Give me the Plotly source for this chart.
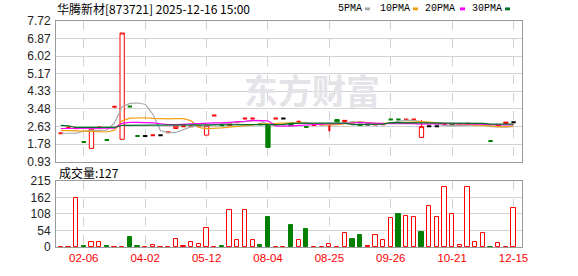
import plotly.graph_objects as go

# ---------------- data ----------------
tick_idx = [3, 11, 19, 27, 35, 43, 51, 59]
tick_text = ["02-06", "04-02", "05-12", "08-04", "08-25", "09-26", "10-21", "12-15"]
price_ticks = [0.93, 1.78, 2.63, 3.48, 4.33, 5.17, 6.02, 6.87, 7.72]
vol_ticks = [0, 54, 108, 162, 215]

opens = [2.30, 2.57, 2.52, 1.88, 1.57, 2.58, 1.98, 3.58, 2.01, 3.59,
         2.17, 2.17, 2.20, 2.20, 2.35, 2.53, 2.64, 2.64, 2.64, 2.21,
         3.16, 2.69, 2.68, 2.83, 3.01, 3.01, 2.74, 2.72, 3.01, 3.01,
         2.76, 2.86, 2.60, 2.70, 2.72, 2.72, 2.96, 2.87, 2.84, 2.74,
         2.72, 2.70, 2.74, 2.96, 2.96, 2.96, 2.96, 2.10, 2.64, 2.64,
         2.74, 2.77, 2.69, 2.76, 2.74, 2.72, 1.93, 2.63, 2.77, 2.83]
closes = [2.30, 2.57, 2.58, 1.88, 2.50, 2.58, 1.98, 3.58, 7.14, 3.59,
          2.17, 2.17, 2.20, 2.20, 2.35, 2.64, 2.64, 2.64, 2.64, 2.67,
          3.16, 2.69, 2.76, 2.83, 3.01, 3.01, 2.74, 1.62, 3.01, 3.01,
          2.66, 2.86, 2.60, 2.70, 2.72, 2.72, 2.85, 2.92, 2.80, 2.68,
          2.72, 2.74, 2.74, 2.96, 2.96, 2.96, 2.96, 2.62, 2.64, 2.64,
          2.74, 2.69, 2.77, 2.76, 2.74, 2.72, 1.93, 2.69, 2.84, 2.83]
highs = [2.30, 2.57, 2.58, 1.88, 2.50, 2.58, 1.98, 3.58, 7.14, 3.59,
         2.17, 2.17, 2.20, 2.20, 2.35, 2.64, 2.64, 2.64, 2.64, 2.67,
         3.16, 2.69, 2.76, 2.83, 3.01, 3.01, 2.74, 2.72, 3.01, 3.01,
         2.76, 2.86, 2.60, 2.70, 2.72, 2.72, 2.96, 2.92, 2.84, 2.74,
         2.72, 2.74, 2.74, 2.96, 2.96, 2.96, 2.96, 2.94, 2.64, 2.64,
         2.74, 2.77, 2.77, 2.76, 2.74, 2.72, 1.93, 2.69, 2.84, 2.83]
lows = [2.30, 2.57, 2.52, 1.88, 1.57, 2.58, 1.98, 3.58, 2.01, 3.59,
        2.17, 2.17, 2.20, 2.20, 2.35, 2.53, 2.64, 2.64, 2.64, 2.21,
        3.16, 2.69, 2.68, 2.83, 3.01, 3.01, 2.74, 1.62, 3.01, 3.01,
        2.66, 2.86, 2.60, 2.70, 2.72, 2.40, 2.85, 2.87, 2.80, 2.68,
        2.72, 2.70, 2.74, 2.96, 2.96, 2.96, 2.96, 2.10, 2.64, 2.64,
        2.74, 2.69, 2.69, 2.76, 2.74, 2.72, 1.93, 2.63, 2.77, 2.83]
# rh = red hollow body, g = green body, rd/gd/kd = red/green/black doji
candle_kind = ["rd", "rd", "rh", "gd", "rh", "rd", "gd", "rd", "rh", "gd",
               "gd", "kd", "rd", "kd", "rd", "rh", "rd", "rd", "rd", "rh",
               "rd", "gd", "rh", "rd", "rd", "rd", "gd", "g", "rd", "kd",
               "g", "rd", "gd", "rd", "rd", "rd", "g", "rh", "g", "g",
               "kd", "rh", "rd", "gd", "gd", "rd", "rd", "rh", "kd", "kd",
               "rd", "g", "rh", "rd", "rd", "rd", "gd", "rh", "rh", "kd"]

volumes = [1, 1, 159, 2, 16, 16, 2, 1, 1, 32,
           2, 1, 6, 1, 1, 26, 4, 16, 10, 62,
           1, 3, 120, 22, 120, 22, 6, 97, 1, 1,
           73, 22, 57, 1, 1, 9, 1, 47, 26, 38,
           4, 40, 24, 93, 107, 101, 97, 48, 132, 97,
           196, 109, 6, 196, 16, 47, 1, 12, 1, 127]
vol_kind = ["rh", "rh", "rh", "g", "rh", "rh", "g", "rh", "rh", "g",
            "g", "rh", "rh", "rh", "rh", "rh", "rf", "rh", "rh", "rh",
            "rh", "g", "rh", "rh", "rh", "rh", "g", "g", "rh", "rh",
            "g", "rh", "g", "rh", "rh", "rh", "rh", "rh", "g", "g",
            "rf", "rh", "rh", "rh", "g", "rh", "rh", "g", "rh", "rh",
            "rh", "rh", "rh", "rh", "rh", "rh", "g", "rh", "rh", "rh"]

ma5 = [2.30, 2.30, 2.30, 2.40, 2.44, 2.44, 2.45, 2.80, 3.58, 3.74,
       3.76, 3.70, 3.22, 2.42, 2.33, 2.34, 2.48, 2.62, 2.64, 2.66,
       2.72, 2.76, 2.80, 2.84, 2.88, 2.90, 2.90, 2.72, 2.68, 2.75,
       2.78, 2.80, 2.82, 2.76, 2.70, 2.72, 2.74, 2.80, 2.84, 2.86,
       2.80, 2.72, 2.74, 2.80, 2.86, 2.93, 2.92, 2.86, 2.80, 2.74,
       2.68, 2.66, 2.68, 2.70, 2.72, 2.72, 2.62, 2.60, 2.60, 2.62]
ma10 = [2.44, 2.44, 2.42, 2.40, 2.38, 2.36, 2.36, 2.45, 2.90, 3.03,
        3.05, 3.05, 3.02, 2.99, 2.99, 3.01, 3.01, 2.90, 2.58, 2.52,
        2.53, 2.56, 2.60, 2.64, 2.68, 2.70, 2.74, 2.76, 2.78, 2.80,
        2.80, 2.79, 2.78, 2.76, 2.72, 2.70, 2.72, 2.76, 2.82, 2.84,
        2.82, 2.78, 2.78, 2.80, 2.82, 2.84, 2.86, 2.86, 2.84, 2.80,
        2.78, 2.76, 2.74, 2.74, 2.72, 2.70, 2.66, 2.62, 2.62, 2.64]
ma20 = [2.53, 2.53, 2.53, 2.53, 2.53, 2.53, 2.53, 2.55, 2.78, 2.83,
        2.83, 2.83, 2.80, 2.76, 2.72, 2.72, 2.74, 2.74, 2.76, 2.80,
        2.80, 2.80, 2.82, 2.86, 2.88, 2.92, 2.92, 2.90, 2.66, 2.64,
        2.66, 2.68, 2.70, 2.74, 2.76, 2.76, 2.76, 2.78, 2.80, 2.82,
        2.80, 2.78, 2.77, 2.76, 2.76, 2.77, 2.77, 2.74, 2.76, 2.78,
        2.77, 2.76, 2.76, 2.76, 2.74, 2.74, 2.72, 2.70, 2.70, 2.71]
ma30 = [2.68, 2.66, 2.58, 2.58, 2.58, 2.58, 2.58, 2.58, 2.68, 2.69,
        2.69, 2.69, 2.69, 2.69, 2.69, 2.69, 2.70, 2.70, 2.70, 2.70,
        2.70, 2.70, 2.70, 2.70, 2.70, 2.71, 2.71, 2.70, 2.72, 2.72,
        2.78, 2.79, 2.79, 2.79, 2.79, 2.79, 2.79, 2.79, 2.72, 2.72,
        2.72, 2.72, 2.74, 2.81, 2.81, 2.81, 2.81, 2.81, 2.81, 2.81,
        2.78, 2.78, 2.78, 2.78, 2.78, 2.78, 2.74, 2.74, 2.74, 2.74]

title_text = "华腾新材[873721] 2025-12-16 15:00"
vol_label = "成交量:127"
legend_items = [("5PMA", "#a8a8a8"), ("10PMA", "#f0a010"), ("20PMA", "#ff00ff"), ("30PMA", "#006f2a")]

# ---------------- styling ----------------
RED = "#ff0000"
GREEN = "#007f00"
W, H = 578, 276
L, R, T, B = 56, 522, 21, 254
pw, ph = R - L, B - T


def px(x):
    return (x - L) / pw


def py(y):
    return (B - y) / ph


x = list(range(len(opens)))
fig = go.Figure()

# moving averages
for vals, col in zip([ma5, ma10, ma20, ma30], [c for _, c in legend_items]):
    fig.add_trace(go.Scatter(x=x, y=vals, mode="lines", line=dict(color=col, width=1.2),
                             xaxis="x", yaxis="y", hoverinfo="skip"))

styles = {
    "rh": (RED, "white", 1),
    "g": (GREEN, GREEN, 1),
    "rd": (RED, RED, 2),
    "gd": (GREEN, GREEN, 2),
    "kd": ("#000000", "#000000", 2),
}
for kind, (lc, fc, lw) in styles.items():
    idx = [i for i, k in enumerate(candle_kind) if k == kind]
    fig.add_trace(go.Candlestick(
        x=[x[i] for i in idx], open=[opens[i] for i in idx], high=[highs[i] for i in idx],
        low=[lows[i] for i in idx], close=[closes[i] for i in idx],
        increasing=dict(line=dict(color=lc, width=lw), fillcolor=fc),
        decreasing=dict(line=dict(color=lc, width=lw), fillcolor=fc),
        whiskerwidth=0, xaxis="x", yaxis="y", hoverinfo="skip"))

vfill = {"rh": "white", "rf": RED, "g": GREEN}
vline = {"rh": RED, "rf": RED, "g": GREEN}
fig.add_trace(go.Bar(x=x, y=volumes, width=0.55, xaxis="x2", yaxis="y2",
                     marker=dict(color=[vfill[k] for k in vol_kind],
                                 line=dict(color=[vline[k] for k in vol_kind], width=1)),
                     hoverinfo="skip"))

xr = [-0.62, 60.1]
grid = "#d2d2d2"
border = "#9a9a9a"
axfont = dict(family="Liberation Sans, Arial, sans-serif", size=12, color="#222")
fig.update_layout(
    width=W, height=H, margin=dict(l=L, r=W - R, t=T, b=H - B),
    paper_bgcolor="white", plot_bgcolor="white", showlegend=False,
    hovermode=False, boxgap=0.2, boxgroupgap=0.3, bargap=0,
    xaxis=dict(domain=[0, 1], range=xr, anchor="y", tickvals=tick_idx, showticklabels=False,
               showgrid=True, gridcolor=grid, griddash="dash", zeroline=False,
               showline=True, linecolor=border, mirror=True, rangeslider=dict(visible=False),
               fixedrange=True),
    yaxis=dict(domain=[py(166), 1], range=[price_ticks[0], price_ticks[-1]], tickvals=price_ticks,
               ticktext=[f"{v:.2f}" for v in price_ticks], tickfont=axfont,
               showgrid=True, gridcolor=grid, zeroline=False, showline=True,
               linecolor=border, mirror=True, ticks="", ticklabelstandoff=2),
    xaxis2=dict(domain=[0, 1], range=xr, anchor="y2", tickvals=tick_idx, ticktext=tick_text,
                tickfont=dict(family="Liberation Sans, Arial, sans-serif", size=11.5, color=RED),
                showgrid=True, gridcolor=grid, griddash="dash", zeroline=False,
                showline=True, linecolor=border, mirror=True, ticks=""),
    yaxis2=dict(domain=[0, py(186)], range=[0, 215], tickvals=vol_ticks, tickfont=axfont,
                showgrid=True, gridcolor=grid, zeroline=False, showline=True,
                linecolor=border, mirror=True, ticks="", ticklabelstandoff=2),
)

ann = []
ann.append(dict(text="<b>东方财富</b>", x=px(312), y=py(92), xref="paper", yref="paper",
                showarrow=False, font=dict(family="Noto Sans CJK SC", size=34, color="#e4e4e8"),
                xanchor="center", yanchor="middle"))
ann.append(dict(text=title_text, x=px(55), y=py(8), xref="paper", yref="paper", showarrow=False,
                font=dict(family="Noto Sans CJK SC", size=12, color="#000"),
                xanchor="left", yanchor="middle"))
ann.append(dict(text=vol_label, x=px(57), y=py(177), xref="paper", yref="paper", showarrow=False,
                font=dict(family="Noto Sans CJK SC", size=12, color="#000"),
                xanchor="left", yanchor="middle"))
shapes = []
lx = [336, 378, 423, 470]
sx = [365, 413, 460, 505]
for (name, col), tx, s in zip(legend_items, lx, sx):
    ann.append(dict(text=name, x=px(tx), y=py(8), xref="paper", yref="paper", showarrow=False,
                    font=dict(family="Liberation Mono, monospace", size=10, color="#000"),
                    xanchor="left", yanchor="middle"))
    shapes.append(dict(type="rect", xref="paper", yref="paper", x0=px(s), x1=px(s + 5),
                       y0=py(10), y1=py(7), fillcolor=col, line=dict(width=0)))
fig.update_layout(annotations=ann, shapes=shapes)

fig.write_html("out.html")
